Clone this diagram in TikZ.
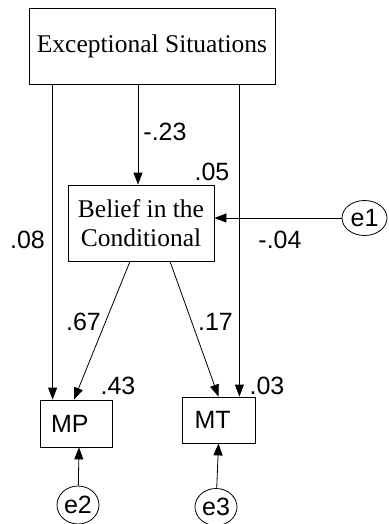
\documentclass[tikz,border=0pt]{standalone}
\usepackage{fontspec}
\setmainfont{Liberation Serif}
\setsansfont{Liberation Sans}
\usetikzlibrary{arrows.meta,shapes.geometric}
\begin{document}
\begin{tikzpicture}[x=1pt, y=-1pt,
            caixa/.style={shape=rectangle, draw=black, line width=0.8pt, inner sep=0pt, font=\fontsize{25.5}{29}\selectfont, align=center},
            obs/.style={shape=rectangle, draw=black, line width=0.8pt, inner sep=0pt, font=\sffamily\fontsize{25}{28}\selectfont, align=left},
            erro/.style={shape=ellipse, draw=black, line width=0.8pt, inner sep=0pt, font=\sffamily\fontsize{25}{28}\selectfont},
            rotulo/.style={inner sep=0pt, font=\sffamily\fontsize{25}{28}\selectfont},
            seta/.style={line width=0.8pt, -{Triangle[length=12pt,width=9pt]}},
        ]
        \useasboundingbox (0,0) rectangle (388,524);

        \node[caixa, minimum width=246pt, minimum height=76pt] (ex) at (152, 46) {Exceptional Situations};
        \node[caixa, minimum width=146pt, minimum height=76pt] (bel) at (141, 223) {Belief in the\\Conditional};
        \node[obs, minimum width=72pt, minimum height=47pt, text width=50pt] (mp) at (76, 423.5) {MP};
        \node[obs, minimum width=73pt, minimum height=46pt, text width=48pt] (mt) at (218.5, 420) {MT};
        \node[erro, minimum width=45pt, minimum height=35pt] (e1) at (364.5, 218) {e1};
        \node[erro, minimum width=42pt, minimum height=38pt] (e2) at (78, 505) {e2};
        \node[erro, minimum width=42pt, minimum height=37pt] (e3) at (216, 507) {e3};

        \node[rotulo] (l23) at (165, 132) {-.23};
        \node[rotulo] (l05) at (212, 172) {.05};
        \node[rotulo] (l08) at (27.5, 240) {.08};
        \node[rotulo] (l04) at (280, 240) {-.04};
        \node[rotulo] (l67) at (83.5, 322) {.67};
        \node[rotulo] (l17) at (215.5, 322) {.17};
        \node[rotulo] (l43) at (118, 386) {.43};
        \node[rotulo] (l03) at (267, 386) {.03};

        \draw[seta] ([xshift=24pt]ex.south west) -- ([xshift=13pt]mp.north west);
        \draw[seta] ([xshift=-36pt]ex.south east) -- ([xshift=-16pt]mt.north east);
        \draw[seta] ([xshift=-14pt]ex.south) -- ([xshift=-3pt]bel.north);
        \draw[seta] (e1) -- (bel.east |- e1);
        \draw[seta] ([xshift=-11pt]bel.south) -- ([xshift=-2pt]mp.north);
        \draw[seta] ([xshift=29pt]bel.south) -- (mt.north);
        \draw[seta] (e2) -- ([xshift=3pt]mp.south);
        \draw[seta] (e3) -- (mt.south);

    \end{tikzpicture}
\end{document}
